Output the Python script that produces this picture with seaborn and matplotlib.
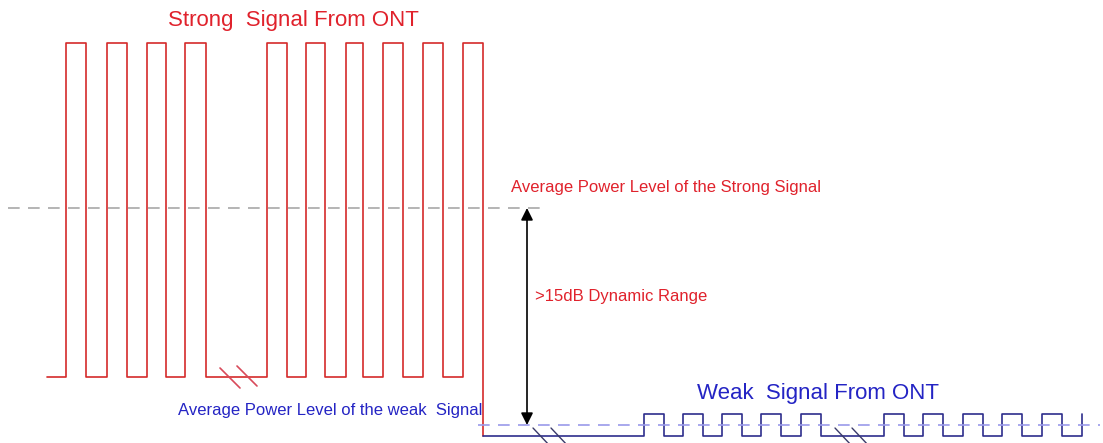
import seaborn as sns
import pandas as pd
import matplotlib.pyplot as plt

# signal timing (x) and levels (y, drawn top-down like the sketch)
strong_rise = [66, 107, 147, 185, 267, 306, 346, 383, 423, 463]
strong_fall = [86, 127, 166, 206, 287, 325, 363, 403, 443, 483]
strong_start = 47
strong_high = 43
strong_low = 377

weak_rise = [644, 683, 722, 761, 801, 884, 923, 963, 1002, 1042]
weak_fall = [664, 703, 742, 781, 821, 904, 943, 983, 1022, 1062]
weak_end = 1082
weak_high = 414
weak_low = 436

strong_avg = 208
weak_avg = 425


def square_wave(start, rises, falls, high, low, end_level):
    xs, ys = [start], [low]
    for i, (r, f) in enumerate(zip(rises, falls)):
        xs += [r, r, f, f]
        last = end_level if i == len(rises) - 1 else low
        ys += [low, high, high, last]
    return pd.DataFrame({"t": xs, "level": ys})


def main():
    sns.set_theme(style="white")
    plt.rcParams["font.family"] = ["Liberation Sans", "DejaVu Sans"]

    fig = plt.figure(figsize=(11.03, 4.43), dpi=100)
    ax = fig.add_axes([0, 0, 1, 1])

    strong = square_wave(strong_start, strong_rise, strong_fall,
                         strong_high, strong_low, weak_low)
    sns.lineplot(data=strong, x="t", y="level", sort=False, estimator=None,
                 color="#d42a2a", lw=1.2, ax=ax)

    weak = square_wave(strong_fall[-1], weak_rise, weak_fall,
                       weak_high, weak_low, weak_low)
    weak = pd.concat([weak, pd.DataFrame({"t": [weak_end, weak_end],
                                          "level": [weak_low, weak_high]})])
    sns.lineplot(data=weak, x="t", y="level", sort=False, estimator=None,
                 color="#2e2e8c", lw=1.2, ax=ax)

    # average power levels
    ax.plot([8, 543], [strong_avg, strong_avg], color="#a8a8a8", lw=1.2,
            linestyle=(0, (7, 5)))
    ax.plot([478, 1100], [weak_avg, weak_avg], color="#9a9aea", lw=1.2,
            linestyle=(0, (7, 5)))

    # break marks
    for x0 in [220, 237]:
        ax.plot([x0, x0 + 20], [366 + (x0 == 220) * 2, 386 + (x0 == 220) * 2],
                color="#d84a5a", lw=1.2)
    for x0 in [533, 551, 835, 852]:
        ax.plot([x0, x0 + 17], [428, 446], color="#3a3a6a", lw=1.0)

    # dynamic range arrow
    ax.annotate("", xy=(527, strong_avg), xytext=(527, weak_avg),
                arrowprops=dict(arrowstyle="<|-|>", color="black", lw=1.2,
                                mutation_scale=18, shrinkA=0, shrinkB=0))

    red = "#e0222c"
    blue = "#2424c4"
    ax.text(168, 20, "Strong  Signal From ONT", color=red, fontsize=16,
            va="center", ha="left")
    ax.text(511, 187, "Average Power Level of the Strong Signal", color=red,
            fontsize=12, va="center", ha="left")
    ax.text(535, 297, ">15dB Dynamic Range", color=red, fontsize=12,
            va="center", ha="left")
    ax.text(697, 393, "Weak  Signal From ONT", color=blue, fontsize=16,
            va="center", ha="left")
    ax.text(178, 410, "Average Power Level of the weak  Signal", color=blue,
            fontsize=12, va="center", ha="left")

    ax.set_xlim(0, 1103)
    ax.set_ylim(443, 0)
    ax.set_axis_off()
    fig.savefig("out.png", dpi=100)


if __name__ == "__main__":
    main()
